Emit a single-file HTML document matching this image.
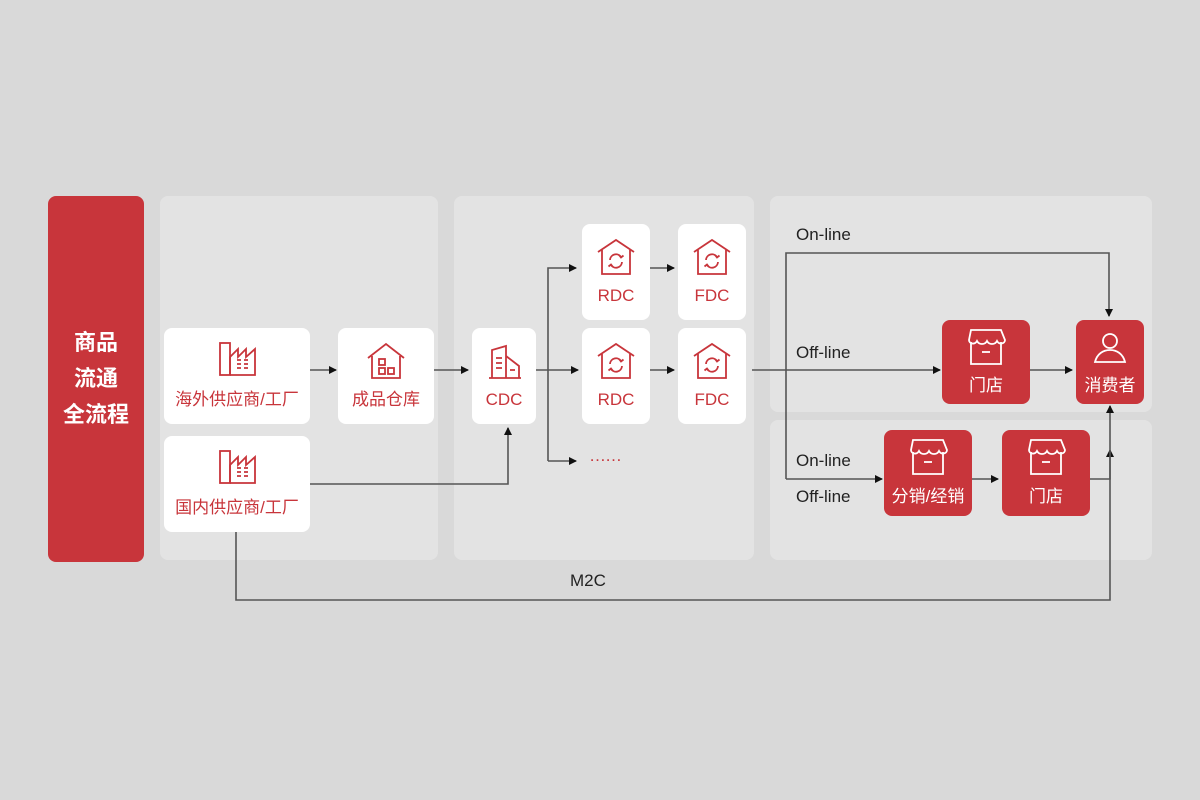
<!DOCTYPE html>
<html><head><meta charset="utf-8"><style>
body{margin:0;width:1200px;height:800px;background:#d9d9d9;position:relative;overflow:hidden;font-family:"Liberation Sans","Noto Sans CJK SC",sans-serif}
.a{position:absolute;box-sizing:border-box}
.p{background:#e3e3e3;border-radius:8px}
.n{background:#fff;border-radius:8px;color:#c8353b;font-size:17px;text-align:center}
.r{background:#c8353b;border-radius:8px;color:#fff;font-size:17px;text-align:center}
.n span,.r span{position:absolute;left:0;right:0;bottom:14px;white-space:nowrap}
.t{position:absolute;font-size:17px;color:#222;white-space:nowrap}
</style></head><body>
<div class="a" style="left:48px;top:196px;width:96px;height:366px;background:#c8353b;border-radius:8px;color:#fff;font-size:22px;font-weight:bold;text-align:center;line-height:36px;padding-top:129px">商品<br>流通<br>全流程</div>
<div class="a p" style="left:160px;top:196px;width:278px;height:364px"></div>
<div class="a p" style="left:454px;top:196px;width:300px;height:364px"></div>
<div class="a p" style="left:770px;top:196px;width:382px;height:216px"></div>
<div class="a p" style="left:770px;top:420px;width:382px;height:140px"></div>

<div class="a n" style="left:164px;top:328px;width:146px;height:96px"><span>海外供应商/工厂</span></div>
<div class="a n" style="left:338px;top:328px;width:96px;height:96px"><span>成品仓库</span></div>
<div class="a n" style="left:164px;top:436px;width:146px;height:96px"><span>国内供应商/工厂</span></div>
<div class="a n" style="left:472px;top:328px;width:64px;height:96px"><span>CDC</span></div>
<div class="a n" style="left:582px;top:224px;width:68px;height:96px"><span>RDC</span></div>
<div class="a n" style="left:678px;top:224px;width:68px;height:96px"><span>FDC</span></div>
<div class="a n" style="left:582px;top:328px;width:68px;height:96px"><span>RDC</span></div>
<div class="a n" style="left:678px;top:328px;width:68px;height:96px"><span>FDC</span></div>
<div class="a r" style="left:942px;top:320px;width:88px;height:84px"><span style="bottom:8px">门店</span></div>
<div class="a r" style="left:1076px;top:320px;width:68px;height:84px"><span style="bottom:8px">消费者</span></div>
<div class="a r" style="left:884px;top:430px;width:88px;height:86px"><span style="bottom:9px">分销/经销</span></div>
<div class="a r" style="left:1002px;top:430px;width:88px;height:86px"><span style="bottom:9px">门店</span></div>

<div class="t" style="left:796px;top:225px">On-line</div>
<div class="t" style="left:796px;top:343px">Off-line</div>
<div class="t" style="left:796px;top:451px">On-line</div>
<div class="t" style="left:796px;top:487px">Off-line</div>
<div class="t" style="left:570px;top:571px">M2C</div>
<div class="t" style="left:589px;top:446px;color:#c8353b;letter-spacing:-1px">……</div>

<svg class="a" style="left:0;top:0" width="1200" height="800" viewBox="0 0 1200 800">
<defs>
<marker id="m" markerWidth="8" markerHeight="8" refX="7" refY="4" orient="auto" markerUnits="userSpaceOnUse"><path d="M0,0L8,4L0,8z" fill="#111"/></marker>
<g id="fac" fill="none" stroke="#c8353b" stroke-width="1.8"><rect x="0" y="0" width="10" height="32"/><path d="M10,32V14l8,-8v8l8,-8v8l9,-8v26H10"/><path d="M17,17h4M24,17h4M17,21h4M24,21h4M17,25h4M24,25h4"/></g>
<g id="hs" fill="none" stroke="#c8353b" stroke-width="1.8"><path d="M0,14L18,0L36,14"/><path d="M4,12v22h28V12"/><rect x="11" y="15" width="6" height="6"/><rect x="11" y="24" width="6" height="6"/><rect x="20" y="24" width="6" height="6"/></g>
<g id="bld" fill="none" stroke="#c8353b" stroke-width="1.8"><path d="M0,32h32M3,32V4l14,-4v32M17,10l13,10v12"/><path d="M7,12h6M7,17h6M7,22h6M21,24h5"/></g>
<g id="dc" fill="none" stroke="#c8353b" stroke-width="1.8"><path d="M0,12L18,0L36,12"/><path d="M4,10v24h28V10"/><path d="M12,20a6,6 0 0 1 11,-3M24,22a6,6 0 0 1 -11,3"/><path d="M21,15l2,2.5l2.5,-2M15,27l-2,-2.5l-2.5,2"/></g>
<g id="st" fill="none" stroke="#fff" stroke-width="1.8"><path d="M4,0h30l4,10c0,4 -6,5 -8,1c-2,4 -8,4 -10,0c-2,4 -8,4 -10,0c-2,4 -8,3 -8,-1z"/><path d="M4,12v22h30V12"/><path d="M15,22h8"/></g>
<g id="ps" fill="none" stroke="#fff" stroke-width="1.8"><circle cx="16" cy="9" r="7"/><path d="M1,30c2,-8 8,-12 15,-12s13,4 15,12z"/></g>
</defs>
<use href="#fac" x="220" y="343"/><use href="#fac" x="220" y="451"/>
<use href="#hs" x="368" y="344"/>
<use href="#bld" x="489" y="346"/>
<use href="#dc" x="598" y="240"/><use href="#dc" x="694" y="240"/>
<use href="#dc" x="598" y="344"/><use href="#dc" x="694" y="344"/>
<use href="#st" x="967" y="330"/><use href="#st" x="909" y="440"/><use href="#st" x="1027" y="440"/>
<use href="#ps" x="1094" y="332"/>
<g fill="none" stroke="#555" stroke-width="1.6">
<path d="M310,370H336" marker-end="url(#m)"/>
<path d="M434,370H468" marker-end="url(#m)"/>
<path d="M536,370H578" marker-end="url(#m)"/>
<path d="M548,461V268H576" marker-end="url(#m)"/>
<path d="M548,461H576" marker-end="url(#m)"/>
<path d="M650,268H674" marker-end="url(#m)"/>
<path d="M650,370H674" marker-end="url(#m)"/>
<path d="M310,484H508V428" marker-end="url(#m)"/>
<path d="M752,370H940" marker-end="url(#m)"/>
<path d="M1030,370H1072" marker-end="url(#m)"/>
<path d="M786,479V253H1109V316" marker-end="url(#m)"/>
<path d="M786,479H882" marker-end="url(#m)"/>
<path d="M972,479H998" marker-end="url(#m)"/>
<path d="M1090,479H1110V450" marker-end="url(#m)"/>
<path d="M236,532V600H1110V406" marker-end="url(#m)"/>
</g>
</svg>
</body></html>
